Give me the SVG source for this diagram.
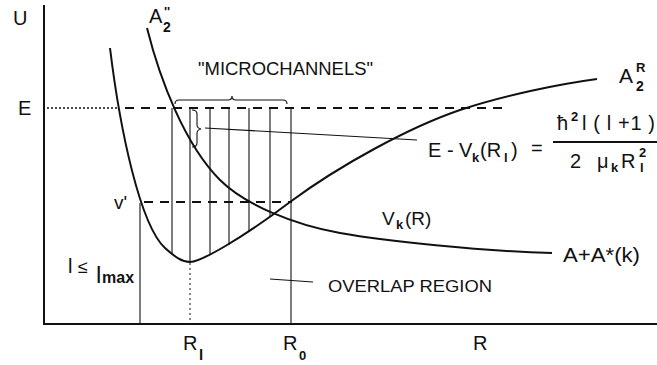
<svg xmlns="http://www.w3.org/2000/svg" width="657" height="365" viewBox="0 0 657 365">
<style>
text{font-family:"Liberation Sans",Arial,sans-serif;fill:#111}
.t{font-size:20px}
.b{font-weight:bold}
.curve{fill:none;stroke:#111;stroke-width:2}
.axis{fill:none;stroke:#111;stroke-width:2}
.thin{fill:none;stroke:#111;stroke-width:1.1}
.dash{fill:none;stroke:#111;stroke-width:2;stroke-dasharray:9 7}
.dot{fill:none;stroke:#111;stroke-width:1.5;stroke-dasharray:2 2}
.dotv{fill:none;stroke:#111;stroke-width:1;stroke-dasharray:2 3}
</style>
<rect width="657" height="365" fill="#fff"/>
<g id="axes">
<line class="axis" x1="44" y1="5" x2="44" y2="324"/>
<line class="axis" x1="43" y1="324" x2="657" y2="324"/>
</g>
<g id="levels">
<line class="dot" x1="47" y1="108" x2="119" y2="108"/>
<line class="dash" x1="125" y1="108" x2="505" y2="108"/>
<line class="dash" x1="144" y1="202" x2="292" y2="202"/>
</g>
<g id="microchannels">
<line class="thin" x1="140" y1="203" x2="140" y2="324"/>
<line class="thin" x1="172" y1="108" x2="172" y2="253"/>
<line class="thin" x1="190" y1="108" x2="190" y2="262"/>
<line class="dotv" x1="190" y1="263" x2="190" y2="324"/>
<line class="thin" x1="210" y1="108" x2="210" y2="255"/>
<line class="thin" x1="229" y1="108" x2="229" y2="245"/>
<line class="thin" x1="249" y1="108" x2="249" y2="232"/>
<line class="thin" x1="270" y1="108" x2="270" y2="217"/>
<line class="thin" x1="291" y1="108" x2="291" y2="324"/>
</g>
<g id="curves">
<path id="well" class="curve" d="M110,48 C120,130 140,225 165,248 C175,257 182,262 190,262 C200,262 240,240 290,202 C340,165 410,127 460,110 C505,95 560,84 597,79"/>
<path id="repulsive" class="curve" d="M147,28 C160,80 185,145 220,180 C245,205 295,225 340,233 C385,241 480,251 552,253"/>
</g>
<g id="braces">
<path class="thin" d="M175,104 Q175,100 179,100 L228,100 Q232,100 232,96 Q232,100 236,100 L283,100 Q287,100 287,104"/>
<path class="thin" d="M192,110 Q197,110 197,114 L197,125 Q197,128 201,129 Q197,130 197,133 L197,143 Q197,147 192,147"/>
<line class="thin" x1="205" y1="128" x2="417" y2="140"/>
<line class="thin" x1="270" y1="279" x2="313" y2="282"/>
</g>
<g id="labels">
<text class="t" x="13" y="25">U</text>
<text class="t" x="18" y="115">E</text>
<text x="149" y="23" font-size="20">A</text>
<text x="164" y="16" font-size="13" class="b">''</text>
<text x="163" y="32" font-size="14" class="b">2</text>
<text x="619" y="83" font-size="21">A</text>
<text x="636" y="72" font-size="13" class="b">R</text>
<text x="636" y="91" font-size="14" class="b">2</text>
<text x="198" y="75" font-size="18" textLength="175" lengthAdjust="spacingAndGlyphs">"MICROCHANNELS"</text>
<text x="114" y="209" font-size="19">v'</text>
<text x="382" y="225" font-size="19">V</text>
<text x="396" y="229" font-size="13" class="b">k</text>
<text x="405" y="225" font-size="19">(R)</text>
<text x="563" y="262" font-size="20" textLength="77" lengthAdjust="spacingAndGlyphs">A+A*(k)</text>
<text x="68" y="273" font-size="20">l</text>
<text x="78" y="273" font-size="18">≤</text>
<text x="96" y="283" font-size="24">l</text>
<text x="102" y="283" font-size="16" class="b">max</text>
<text x="328" y="292" font-size="17" textLength="164" lengthAdjust="spacingAndGlyphs">OVERLAP REGION</text>
<text class="t" x="183" y="350">R</text>
<text x="199" y="360" font-size="15" class="b">l</text>
<text class="t" x="283" y="350">R</text>
<text x="299" y="360" font-size="13" class="b">0</text>
<text class="t" x="473" y="350">R</text>
</g>
<g id="formula">
<text class="t" x="428" y="157">E - V</text>
<text x="472" y="162" font-size="13" class="b">k</text>
<text class="t" x="480" y="157">(R</text>
<text x="504" y="162" font-size="13" class="b">l</text>
<text class="t" x="511" y="157">)</text>
<text class="t" x="531" y="155">=</text>
<text class="t" x="557" y="130">ħ</text>
<text x="571" y="121" font-size="13" class="b">2</text>
<text class="t" x="582" y="130" textLength="73" lengthAdjust="spacing">l ( l +1 )</text>
<line x1="553" y1="142" x2="657" y2="142" stroke="#111" stroke-width="2"/>
<text class="t" x="570" y="168">2</text>
<text class="t" x="597" y="168">μ</text>
<text x="611" y="172" font-size="13" class="b">k</text>
<text class="t" x="621" y="168">R</text>
<text x="639" y="157" font-size="13" class="b">2</text>
<text x="640" y="172" font-size="13" class="b">l</text>
</g>
</svg>
